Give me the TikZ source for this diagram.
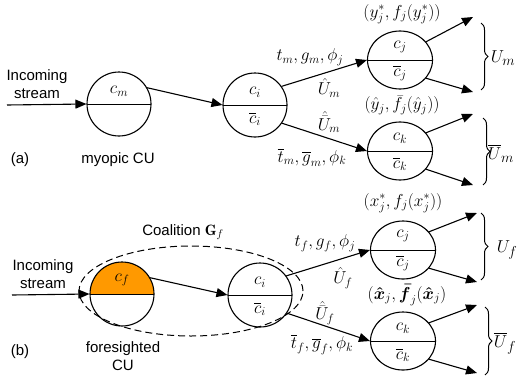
\documentclass[tikz,border=0pt]{standalone}
\usepackage{amsmath,amssymb}
\usepackage{fontspec}
\setsansfont{Liberation Sans}
\usepackage{xcolor}
\usetikzlibrary{arrows.meta,shapes.geometric,decorations.pathreplacing}

\definecolor{cforange}{RGB}{255,153,0}

\begin{document}
\begin{tikzpicture}[x=1pt, y=-1pt,
    unit/.style={circle, draw, line width=1.1pt, minimum size=64pt, inner sep=0pt,
        path picture={\draw[line width=1pt] (path picture bounding box.west) -- (path picture bounding box.east);}},
    leaf/.style={unit, ellipse, minimum width=65pt, minimum height=58pt},
    arrow/.style={-{Triangle[length=11pt,width=9pt]}, line width=1.1pt},
    txt/.style={font=\sffamily\fontsize{15}{18}\selectfont, align=center, inner sep=0pt},
    mth/.style={font=\fontsize{17.5}{20}\selectfont, inner sep=0pt},
    big/.style={font=\fontsize{19}{22}\selectfont, inner sep=0pt},
    brc/.style={decorate, decoration={brace, amplitude=7pt}, line width=1pt},
    coal/.style={ellipse, draw, dashed, dash pattern=on 7pt off 4pt, line width=1pt,
        minimum width=224pt, minimum height=90pt}
]
    \useasboundingbox (0,0) rectangle (518,383);

    % (a) myopic CU
    \node[txt] (ina) at (37,84) {Incoming\\stream};
    \coordinate (srca) at (7,105);
    \node[unit] (cm) at (119,104) {};
    \node[unit] (cia) at (255,105) {};
    \node[leaf] (cja) at (400,60) {};
    \node[leaf] (cka) at (400,151) {};

    \node[mth] (cmup) at (119,91) {$c_m$};
    \node[mth] (ciaup) at (255,92) {$c_i$};
    \node[mth] (cialo) at (255,119) {$\overline{c}_i$};
    \node[mth] (cjaup) at (400,47) {$c_j$};
    \node[mth] (cjalo) at (400,73) {$\overline{c}_j$};
    \node[mth] (ckaup) at (400,138) {$c_k$};
    \node[mth] (ckalo) at (400,164) {$\overline{c}_k$};

    \node[txt] (tagA) at (20,160) {(a)};
    \node[txt] (myop) at (118,160) {myopic CU};

    % arrows (a)
    \draw[arrow] (srca) -- (cm.west);
    \draw[arrow] (cm.30) -- (cia.west);
    \draw[arrow] (cia.35) -- (cja.west);
    \draw[arrow] (cia.-34) -- (cka.west);
    \coordinate (ja1) at (473,17);
    \coordinate (ja2) at (473,92);
    \coordinate (ka1) at (473,114);
    \coordinate (ka2) at (473,185);
    \draw[arrow] (cja.35) -- (ja1);
    \draw[arrow] (cja.-35) -- (ja2);
    \draw[arrow] (cka.35) -- (ka1);
    \draw[arrow] (cka.-35) -- (ka2);

    \node[mth] (ya) at (402,14) {$(y_j^*, f_j(y_j^*))$};
    \node[mth] (yha) at (402,105) {$(\hat{y}_j, \bar{f}_j(\hat{y}_j))$};
    \node[mth] (tma) at (310,57) {$t_m, g_m, \phi_j$};
    \node[mth] (uha) at (329,88) {$\hat{U}_m$};
    \node[mth] (ubha) at (329,122) {$\hat{\bar{U}}_m$};
    \node[mth] (tbma) at (312,157) {$\overline{t}_m, \overline{g}_m, \phi_k$};

    \draw[brc] (481,23) -- (481,90);
    \draw[brc] (483,118) -- (483,185);
    \node[big] (ua) at (503,58) {$U_m$};
    \node[big] (uba) at (501,153) {$\overline{U}_m$};

    % (b) foresighted CU
    \node[coal] (coal) at (191,291) {};
    \node[txt] (coallbl) at (183,232) {Coalition $\mathbf{G}_f$};
    \node[txt] (inb) at (43,274) {Incoming\\stream};
    \coordinate (srcb) at (12,295);
    \node[unit, path picture={\fill[cforange] (path picture bounding box.west) rectangle (path picture bounding box.north east);
        \draw[line width=1pt] (path picture bounding box.west) -- (path picture bounding box.east);}] (cf) at (122,294) {};
    \node[unit] (cib) at (260,295) {};
    \node[leaf] (cjb) at (403,250) {};
    \node[leaf] (ckb) at (403,341) {};

    \node[mth] (cfup) at (122,280) {$c_f$};
    \node[mth] (cibup) at (260,282) {$c_i$};
    \node[mth] (ciblo) at (260,309) {$\overline{c}_i$};
    \node[mth] (cjbup) at (403,236) {$c_j$};
    \node[mth] (cjblo) at (403,263) {$\overline{c}_j$};
    \node[mth] (ckbup) at (403,328) {$c_k$};
    \node[mth] (ckblo) at (403,355) {$\overline{c}_k$};

    \node[txt] (tagB) at (20,352) {(b)};
    \node[txt] (fore) at (123,356) {foresighted\\CU};

    % arrows (b)
    \draw[arrow] (srcb) -- (cf.west);
    \draw[arrow] (cf.30) -- (cib.west);
    \draw[arrow] (cib.36) -- (cjb.west);
    \draw[arrow] (cib.-34) -- (ckb.west);
    \coordinate (jb1) at (477,213);
    \coordinate (jb2) at (477,282);
    \coordinate (kb1) at (477,305);
    \coordinate (kb2) at (477,373);
    \draw[arrow] (cjb.35) -- (jb1);
    \draw[arrow] (cjb.-35) -- (jb2);
    \draw[arrow] (ckb.35) -- (kb1);
    \draw[arrow] (ckb.-35) -- (kb2);

    \node[mth] (xb) at (403,203) {$(x_j^*, f_j(x_j^*))$};
    \node[mth] (xhb) at (407,295) {$(\boldsymbol{\hat{x}}_j, \boldsymbol{\bar{f}}_j(\boldsymbol{\hat{x}}_j)$};
    \node[mth] (tfb) at (325,243) {$t_f, g_f, \phi_j$};
    \node[mth] (uhb) at (343,278) {$\hat{U}_f$};
    \node[mth] (ubhb) at (325,313) {$\hat{\bar{U}}_f$};
    \node[mth] (tbfb) at (322,345) {$\overline{t}_f, \overline{g}_f, \phi_k$};

    \draw[brc] (481,213) -- (481,280);
    \draw[brc] (485,307) -- (485,375);
    \node[big] (ub) at (507,250) {$U_f$};
    \node[big] (ubb) at (505,343) {$\overline{U}_f$};
\end{tikzpicture}
\end{document}
